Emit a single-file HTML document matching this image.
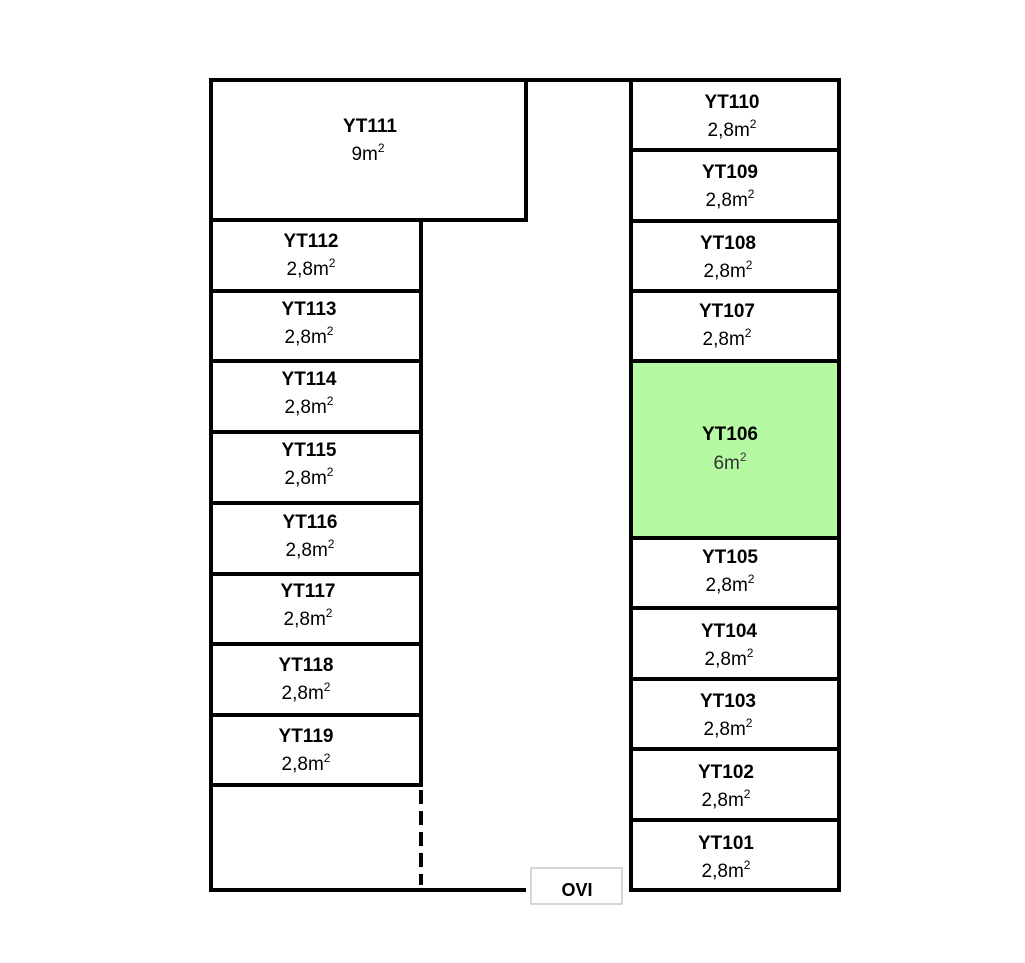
<!DOCTYPE html>
<html><head><meta charset="utf-8"><style>html,body{margin:0;padding:0;background:#fff}svg{display:block}</style></head>
<body>
<svg width="1025" height="963" viewBox="0 0 1025 963" xmlns="http://www.w3.org/2000/svg" font-family="Liberation Sans, sans-serif">
<rect x="631" y="361" width="208" height="177" fill="#b5f9a3"/>
<g stroke="#000" stroke-width="4" fill="none" stroke-linecap="square">
<line x1="211" y1="80" x2="839" y2="80"/>
<line x1="211" y1="80" x2="211" y2="890"/>
<line x1="211" y1="890" x2="524" y2="890"/>
<line x1="526" y1="80" x2="526" y2="220"/>
<line x1="211" y1="220" x2="526" y2="220"/>
<line x1="421" y1="220" x2="421" y2="785"/>
<line x1="211" y1="291" x2="421" y2="291"/>
<line x1="211" y1="361" x2="421" y2="361"/>
<line x1="211" y1="432" x2="421" y2="432"/>
<line x1="211" y1="503" x2="421" y2="503"/>
<line x1="211" y1="574" x2="421" y2="574"/>
<line x1="211" y1="644" x2="421" y2="644"/>
<line x1="211" y1="715" x2="421" y2="715"/>
<line x1="211" y1="785" x2="421" y2="785"/>
<line x1="631" y1="80" x2="631" y2="890"/>
<line x1="839" y1="80" x2="839" y2="890"/>
<line x1="631" y1="890" x2="839" y2="890"/>
<line x1="631" y1="150" x2="839" y2="150"/>
<line x1="631" y1="221" x2="839" y2="221"/>
<line x1="631" y1="291" x2="839" y2="291"/>
<line x1="631" y1="361" x2="839" y2="361"/>
<line x1="631" y1="538" x2="839" y2="538"/>
<line x1="631" y1="608" x2="839" y2="608"/>
<line x1="631" y1="679" x2="839" y2="679"/>
<line x1="631" y1="749" x2="839" y2="749"/>
<line x1="631" y1="820" x2="839" y2="820"/>
</g>
<line x1="421" y1="790" x2="421" y2="885" stroke="#000" stroke-width="4" stroke-dasharray="14,7"/>
<rect x="531" y="868" width="91" height="36" fill="#fff" stroke="#c8c8c8" stroke-width="1.5"/>
<g text-anchor="middle" fill="#000">
<g font-weight="bold" font-size="19">
<text x="370" y="132">YT111</text>
<text x="311" y="247">YT112</text>
<text x="309" y="315">YT113</text>
<text x="309" y="385">YT114</text>
<text x="309" y="456">YT115</text>
<text x="310" y="528">YT116</text>
<text x="308" y="597">YT117</text>
<text x="306" y="671">YT118</text>
<text x="306" y="742">YT119</text>
<text x="732" y="108">YT110</text>
<text x="730" y="178">YT109</text>
<text x="728" y="249">YT108</text>
<text x="727" y="317">YT107</text>
<text x="730" y="440">YT106</text>
<text x="730" y="563">YT105</text>
<text x="729" y="637">YT104</text>
<text x="728" y="707">YT103</text>
<text x="726" y="778">YT102</text>
<text x="726" y="849">YT101</text>
<text x="577" y="896" font-size="18">OVI</text>
</g>
<g font-size="19">
<text x="368" y="160">9m<tspan font-size="12" dy="-8">2</tspan></text>
<text x="311" y="275">2,8m<tspan font-size="12" dy="-8">2</tspan></text>
<text x="309" y="343">2,8m<tspan font-size="12" dy="-8">2</tspan></text>
<text x="309" y="413">2,8m<tspan font-size="12" dy="-8">2</tspan></text>
<text x="309" y="484">2,8m<tspan font-size="12" dy="-8">2</tspan></text>
<text x="310" y="556">2,8m<tspan font-size="12" dy="-8">2</tspan></text>
<text x="308" y="625">2,8m<tspan font-size="12" dy="-8">2</tspan></text>
<text x="306" y="699">2,8m<tspan font-size="12" dy="-8">2</tspan></text>
<text x="306" y="770">2,8m<tspan font-size="12" dy="-8">2</tspan></text>
<text x="732" y="136">2,8m<tspan font-size="12" dy="-8">2</tspan></text>
<text x="730" y="206">2,8m<tspan font-size="12" dy="-8">2</tspan></text>
<text x="728" y="277">2,8m<tspan font-size="12" dy="-8">2</tspan></text>
<text x="727" y="345">2,8m<tspan font-size="12" dy="-8">2</tspan></text>
<text x="730" y="469" fill="#333">6m<tspan font-size="12" dy="-8">2</tspan></text>
<text x="730" y="591">2,8m<tspan font-size="12" dy="-8">2</tspan></text>
<text x="729" y="665">2,8m<tspan font-size="12" dy="-8">2</tspan></text>
<text x="728" y="735">2,8m<tspan font-size="12" dy="-8">2</tspan></text>
<text x="726" y="806">2,8m<tspan font-size="12" dy="-8">2</tspan></text>
<text x="726" y="877">2,8m<tspan font-size="12" dy="-8">2</tspan></text>
</g>
</g>
</svg>
</body></html>
